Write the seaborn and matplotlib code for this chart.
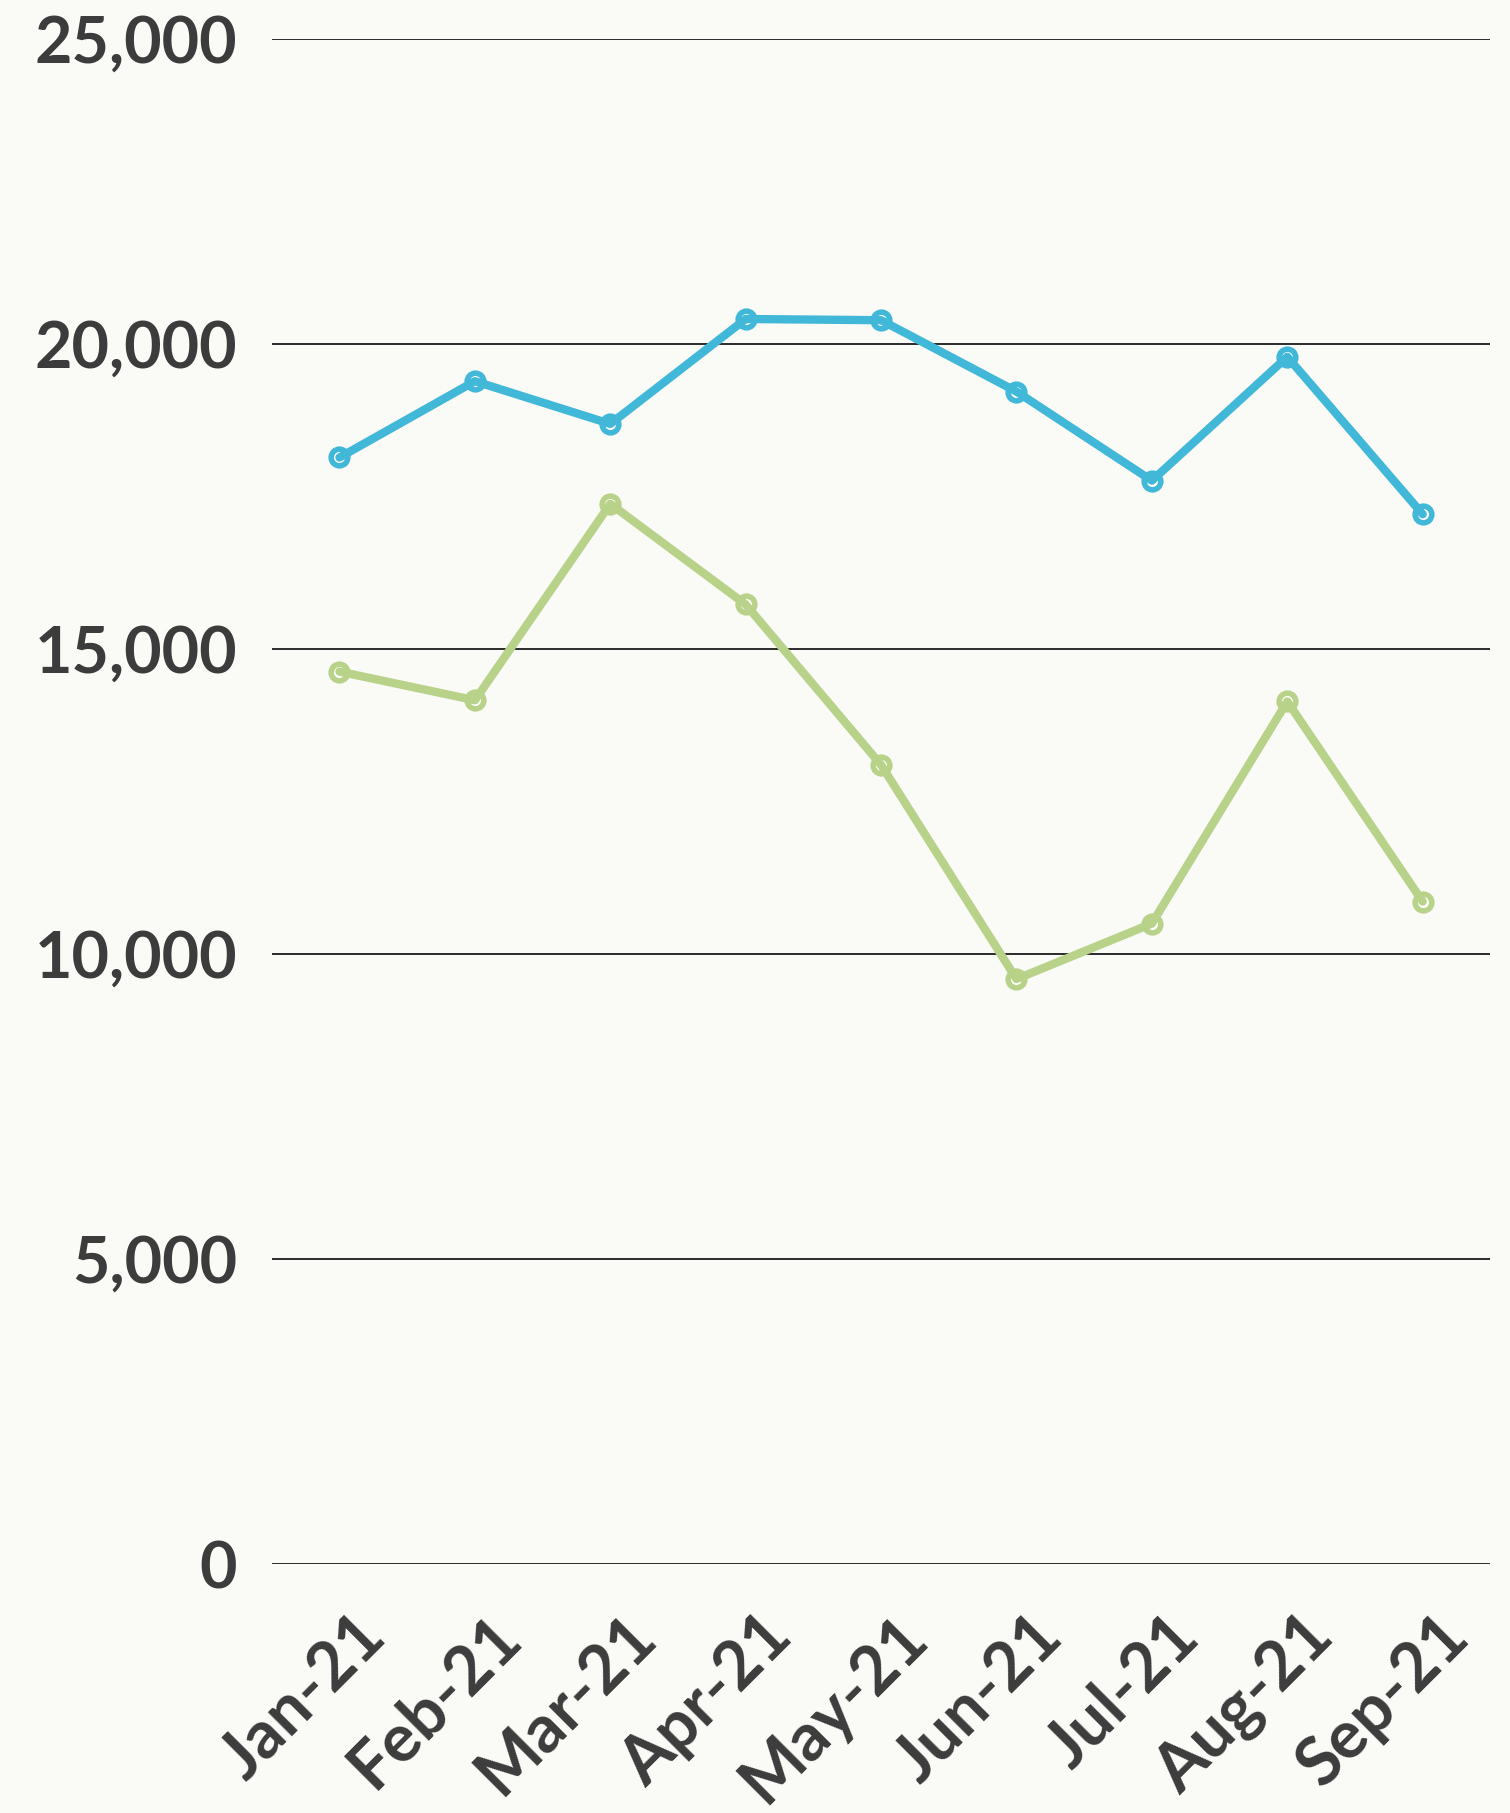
import matplotlib
matplotlib.use("Agg")
import matplotlib.pyplot as plt
import matplotlib.transforms as mtrans
import seaborn as sns
import pandas as pd

months = ["Jan-21", "Feb-21", "Mar-21", "Apr-21", "May-21", "Jun-21", "Jul-21", "Aug-21", "Sep-21"]
blue_vals = [18140, 19390, 18690, 20410, 20390, 19220, 17760, 19790, 17210]
green_vals = [14630, 14160, 17380, 15730, 13100, 9590, 10500, 14140, 10860]
y_ticks = [0, 5000, 10000, 15000, 20000, 25000]

bg = "#fafaf6"
txt = "#3c3c3c"
blue = "#42b8d8"
green = "#b8d28a"

sns.set_theme(style="white")
plt.rcParams["font.family"] = ["Lato", "DejaVu Sans"]

df = pd.DataFrame({"month": months, "blue": blue_vals, "green": green_vals})
df["pos"] = range(len(months))

fig = plt.figure(figsize=(15.1, 18.13), dpi=100, facecolor=bg)
ax = fig.add_axes([0.180, 0.1373, 0.807, 0.8412])
ax.set_facecolor(bg)

for col, c in [("blue", blue), ("green", green)]:
    # markers first (white centre), then the line on top of them
    sns.lineplot(data=df, x="pos", y=col, ax=ax, color=c, linewidth=0, marker="o",
                 markersize=12, markerfacecolor="white", markeredgecolor=c,
                 markeredgewidth=4, zorder=3)
    sns.lineplot(data=df, x="pos", y=col, ax=ax, color=c, linewidth=6, zorder=4)

ax.set_xlim(-0.5, len(months) - 0.5)
ax.set_ylim(0, 25000)
ax.set_yticks(y_ticks)
ax.set_yticklabels([f"{v:,}" for v in y_ticks])
ax.set_xticks(df["pos"])
ax.set_xticklabels(months, rotation=45, ha="right", rotation_mode="anchor")
ax.yaxis.grid(True, color="#2b2b2b", linewidth=1.4)
ax.xaxis.grid(False)
ax.set_axisbelow(True)
for s in ax.spines.values():
    s.set_visible(False)
ax.set_xlabel("")
ax.set_ylabel("")
ax.tick_params(axis="y", length=0, pad=25, labelsize=46.5, labelcolor=txt)
ax.tick_params(axis="x", length=0, pad=29, labelsize=48, labelcolor=txt)
for lab in ax.get_yticklabels():
    lab.set_fontweight("bold")
off = mtrans.ScaledTranslation(0.14, 0, fig.dpi_scale_trans)
for lab in ax.get_xticklabels():
    lab.set_fontweight("bold")
    lab.set_transform(lab.get_transform() + off)

fig.savefig("out.png", dpi=100, facecolor=bg)
